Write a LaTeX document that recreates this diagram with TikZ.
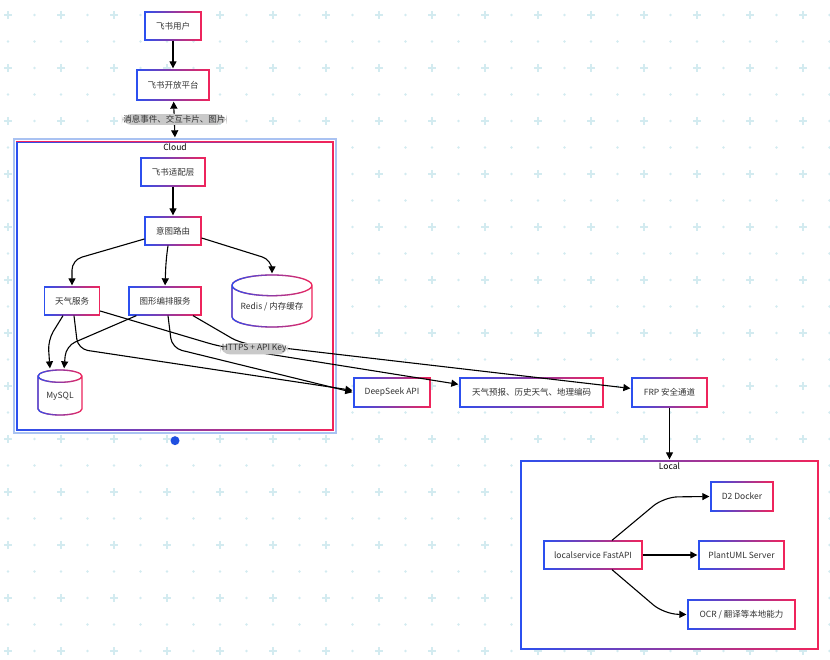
\documentclass[tikz,border=0pt]{standalone}
\usepackage{fontspec}
\setmainfont{Noto Sans CJK SC}
\usetikzlibrary{arrows.meta,positioning,shapes.geometric,fadings}
\definecolor{edgeblue}{HTML}{2B50F0}
\definecolor{edgered}{HTML}{F2245A}
\definecolor{selblue}{HTML}{A9C2F2}
\definecolor{handleblue}{HTML}{1F4FE0}
\definecolor{gridcyan}{HTML}{D3EBF0}
\definecolor{labelgray}{HTML}{C9C9C9}
\definecolor{textgray}{HTML}{333333}

\begin{document}
\begin{tikzpicture}[x=1pt, y=-1pt,
  svc/.style={rectangle, fill=white, draw=edgered, line width=1.3pt, postaction={draw=edgeblue, line width=1.3pt, path fading=east}, inner sep=0pt, font=\fontsize{8.5}{10}\selectfont, text=textgray},
  store/.style={svc, cylinder, shape border rotate=90, aspect=0.33, anchor=shape center},
  group/.style={svc, text=black},
  grouplabel/.style={anchor=north, inner sep=1pt, yshift=-1pt, font=\fontsize{8.5}{10}\selectfont, text=black},
  conn/.style={-{Triangle[length=7pt,width=7pt]}, line width=1.1pt, black, rounded corners=10pt, shorten >=1pt},
  lbl/.style={fill=labelgray, inner sep=1.5pt, font=\fontsize{8.5}{10}\selectfont, text=textgray},
  crossmark/.style={gridcyan, line width=1.6pt},
  selframe/.style={selblue, line width=1.3pt}
]
  \useasboundingbox (0,0) rectangle (830,660);

  % background grid
  \foreach \a in {0,...,31}
    \foreach \b in {0,...,24} {
      \pgfmathparse{int(mod(\a,2)+mod(\b,2))}
      \ifnum\pgfmathresult>0
        \fill[gridcyan] ({8+26.5*\a},{15+26.5*\b}) circle[radius=1.3pt];
      \else
        \draw[crossmark] ({4+26.5*\a},{15+26.5*\b}) -- ++(8,0) ({8+26.5*\a},{11+26.5*\b}) -- ++(0,8);
      \fi
    }

  % containers
  \draw[selframe] (14,139) rectangle (336,433);
  \node[group, minimum width=316, minimum height=288, label={[grouplabel]north:Cloud}] (cloud) at (175,286) {};
  \fill[handleblue] ([yshift=-10pt]cloud.south) circle[radius=4.5pt];
  \node[group, minimum width=297, minimum height=188, label={[grouplabel]north:Local}] (local) at (669.5,555) {};

  % nodes
  \node[svc, minimum width=56, minimum height=28] (user) at (173,26) {飞书用户};
  \node[svc, minimum width=72, minimum height=30] (platform) at (173,85) {飞书开放平台};
  \node[svc, minimum width=64, minimum height=28] (adapter) at (173,172) {飞书适配层};
  \node[svc, minimum width=56, minimum height=28] (router) at (173,231) {意图路由};
  \node[svc, minimum width=55, minimum height=28] (weather) at (72,301) {天气服务};
  \node[svc, minimum width=72, minimum height=28] (graph) at (165,301) {图形编排服务};
  \node[store, minimum width=80, minimum height=52] (redis) at (272,301) {Redis / 内存缓存};
  \node[store, minimum width=44, minimum height=45, aspect=0.45] (mysql) at (60,392.5) {MySQL};
  \node[svc, minimum width=76, minimum height=29] (deepseek) at (392,392.5) {DeepSeek API};
  \node[svc, minimum width=143, minimum height=29] (weatherapi) at (531.5,392.5) {天气预报、历史天气、地理编码};
  \node[svc, minimum width=75, minimum height=29] (frp) at (669.5,392.5) {FRP 安全通道};
  \node[svc, minimum width=98, minimum height=28] (fastapi) at (593,555) {localservice FastAPI};
  \node[svc, minimum width=62, minimum height=29] (d2) at (742,496.5) {D2 Docker};
  \node[svc, minimum width=85, minimum height=28] (plantuml) at (741.5,555) {PlantUML Server};
  \node[svc, minimum width=107, minimum height=29] (ocr) at (741.5,614.5) {OCR / 翻译等本地能力};

  % connectors
  \draw[conn] (user) -- (platform);
  \draw[conn, {Triangle[length=7pt,width=7pt]}-{Triangle[length=7pt,width=7pt]}, shorten <=1pt] (platform) -- node[lbl] {消息事件、交互卡片、图片} ([yshift=3pt]cloud.north);
  \draw[conn] (adapter) -- (router);
  \draw[conn] ([yshift=-8pt]router.west) -- (72,260) -- (weather.north);
  \draw[conn] ([xshift=-5pt]router.south) -- (166,260) -- (graph.north);
  \draw[conn] ([yshift=-7pt]router.east) -- (272,260) -- (redis.north);
  \draw[conn] ([xshift=-9pt]weather.south) -- (48,340) -- ([xshift=-10pt]mysql.north);
  \draw[conn] ([xshift=8pt]graph.south west) -- (66,346) -- ([xshift=4pt]mysql.north);
  \draw[conn] ([xshift=2pt]weather.south) -- (78,349) -- ([yshift=2pt]deepseek.west);
  \draw[conn] ([xshift=3pt]graph.south) -- (172,348) -- (deepseek.west);
  \draw[conn] ([xshift=28pt]graph.south) -- (240,343) -- ([yshift=4pt]frp.west);
  \draw[conn] ([yshift=-10pt]weather.east) -- (218,346) -- node[lbl, pos=0.15, yshift=3pt] {HTTPS + API Key} ([yshift=8pt]weatherapi.west);
  \draw[conn] (frp) -- (local.north);
  \draw[conn, rounded corners=14pt] ([xshift=19pt]fastapi.north) -- (664,497) -- (d2.west);
  \draw[conn] (fastapi) -- (plantuml);
  \draw[conn, rounded corners=14pt] ([xshift=19pt]fastapi.south) -- (664,614) -- (ocr.west);
\end{tikzpicture}
\end{document}
